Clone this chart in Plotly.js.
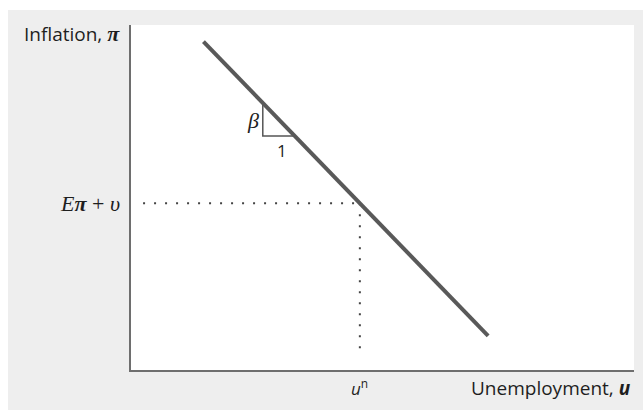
<!DOCTYPE html>
<html>
<head>
<meta charset="utf-8">
<script src="https://cdn.plot.ly/plotly-3.0.1.min.js"></script>
<style>
  body { margin: 0; background: #fff; }
  #myDiv { width: 643px; height: 410px; }
</style>
</head>
<body>
<div id="myDiv"></div>
<script>
// Phillips curve: pi = E(pi) - beta (u - u^n) + v
const curveU = [1.44, 7.10];
const curvePi = [9.52, 0.99];

const naturalU = 4.55;     // u^n
const expectedPi = 4.83;   // E(pi) + v

const guideHU = [0.24, naturalU];
const guideHPi = [expectedPi, expectedPi];
const guideVU = [naturalU, naturalU];
const guideVPi = [expectedPi, 0.41];

const slopeU = [2.62, 2.62, 3.26];
const slopePi = [7.70, 6.78, 6.78];

const xTitle = 'Unemployment, <i><b>u</b></i>';
const yTitle = 'Inflation, <span style="font-family:\'Liberation Serif\';font-size:22px"><i><b>π</b></i></span>';
const levelLabel = '<i>E</i><i><b>π</b></i> + <i>υ</i>';
const naturalLabel = '<i>u</i><sup>n</sup>';

const sans = 'Open Sans, sans-serif';
const serif = 'Liberation Serif, serif';

var curve = {
  x: curveU, y: curvePi,
  type: 'scatter', mode: 'lines',
  line: {color: '#595959', width: 4},
  hoverinfo: 'skip'
};

var dotsH = {
  x: guideHU, y: guideHPi,
  type: 'scatter', mode: 'lines',
  line: {color: '#444', width: 2, dash: '2px,9px'},
  hoverinfo: 'skip'
};

var dotsV = {
  x: guideVU, y: guideVPi,
  type: 'scatter', mode: 'lines',
  line: {color: '#444', width: 2, dash: '2px,9px'},
  hoverinfo: 'skip'
};

var slope = {
  x: slopeU, y: slopePi,
  type: 'scatter', mode: 'lines',
  line: {color: '#555', width: 1.5},
  hoverinfo: 'skip'
};

var data = [dotsH, dotsV, slope, curve];

var layout = {
  width: 643,
  height: 410,
  margin: {l: 131, r: 9, t: 25, b: 40},
  paper_bgcolor: '#ffffff',
  plot_bgcolor: '#ffffff',
  showlegend: false,
  hovermode: false,
  font: {family: sans, size: 19, color: '#222'},
  xaxis: {
    range: [0, 10], showgrid: false, zeroline: false,
    showticklabels: false, ticks: '',
    showline: true, linecolor: '#6e6e6e', linewidth: 2
  },
  yaxis: {
    range: [0, 10], showgrid: false, zeroline: false,
    showticklabels: false, ticks: '',
    showline: true, linecolor: '#6e6e6e', linewidth: 2
  },
  shapes: [
    // grey card behind the figure
    {type: 'rect', xref: 'paper', yref: 'paper', layer: 'below',
     x0: -0.2445, x1: 1.02, y0: -0.12, y1: 1.0435,
     fillcolor: '#eeeeee', line: {width: 0}},
    {type: 'rect', xref: 'paper', yref: 'paper', layer: 'below',
     x0: 0, x1: 1, y0: 0, y1: 1,
     fillcolor: '#ffffff', line: {width: 0}}
  ],
  annotations: [
    {text: yTitle, xref: 'paper', yref: 'paper', x: -0.018, y: 0.974,
     xanchor: 'right', yanchor: 'middle', showarrow: false,
     font: {family: sans, size: 19, color: '#1e1e1e'}},
    {text: xTitle, xref: 'paper', yref: 'paper', x: 0.998, y: -0.052,
     xanchor: 'right', yanchor: 'middle', showarrow: false,
     font: {family: sans, size: 19, color: '#1e1e1e'}},
    {text: levelLabel, xref: 'paper', yref: 'y', x: -0.018, y: expectedPi,
     xanchor: 'right', yanchor: 'middle', showarrow: false,
     font: {family: serif, size: 22, color: '#1e1e1e'}},
    {text: naturalLabel, xref: 'x', yref: 'paper', x: naturalU, y: -0.052,
     xanchor: 'center', yanchor: 'middle', showarrow: false,
     font: {family: sans, size: 17, color: '#1e1e1e'}},
    {text: '<i>β</i>', xref: 'x', yref: 'y', x: slopeU[0], y: 7.22,
     xanchor: 'right', yanchor: 'middle', xshift: -2, showarrow: false,
     font: {family: serif, size: 22, color: '#1e1e1e'}},
    {text: '1', xref: 'x', yref: 'y', x: 3.0, y: 6.35,
     xanchor: 'center', yanchor: 'middle', showarrow: false,
     font: {family: sans, size: 17, color: '#1e1e1e'}}
  ]
};

Plotly.newPlot('myDiv', data, layout, {staticPlot: true, displayModeBar: false});
</script>
</body>
</html>
